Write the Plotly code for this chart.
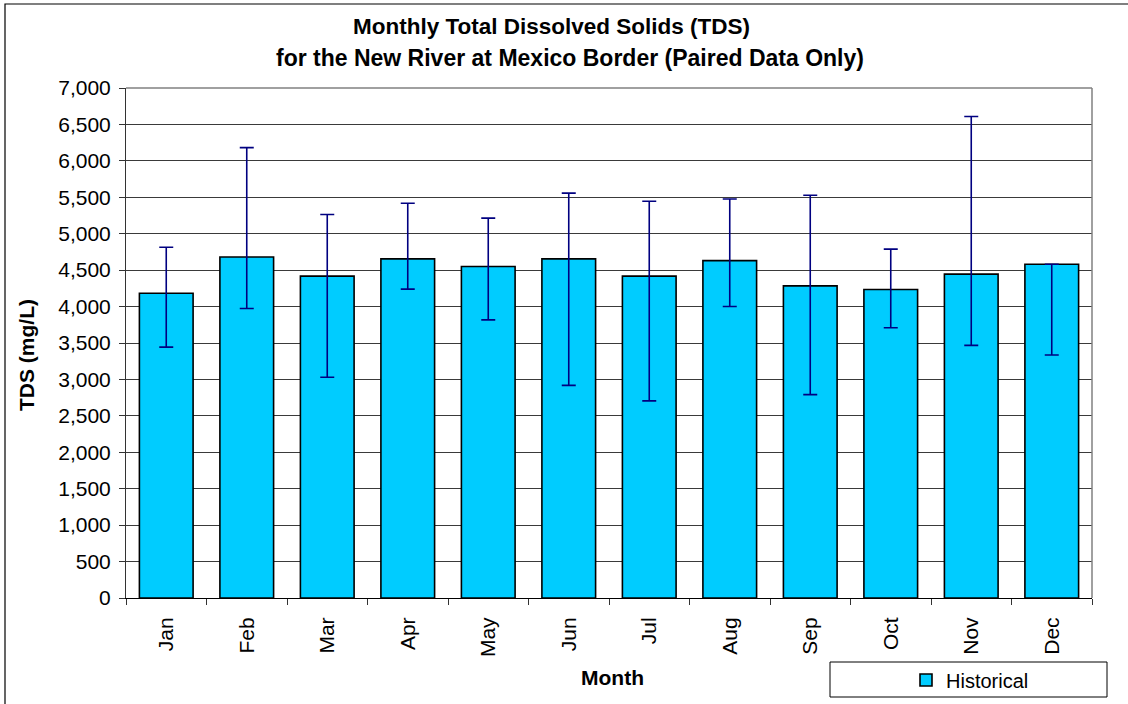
import plotly.graph_objects as go

months = ["Jan", "Feb", "Mar", "Apr", "May", "Jun", "Jul", "Aug", "Sep", "Oct", "Nov", "Dec"]
tds_mean = [4183, 4681, 4418, 4654, 4550, 4654, 4418, 4631, 4284, 4234, 4446, 4581]
tds_max = [4815, 6182, 5264, 5418, 5214, 5557, 5445, 5477, 5528, 4788, 6609, 4581]
tds_min = [3443, 3973, 3029, 4239, 3818, 2918, 2705, 4000, 2791, 3709, 3467, 3336]
y_ticks = list(range(0, 7001, 500))

err_plus = [hi - m for hi, m in zip(tds_max, tds_mean)]
err_minus = [m - lo for lo, m in zip(tds_min, tds_mean)]

FONT = "Arial, Liberation Sans, sans-serif"
W, H = 1128, 704
L, R, T, B = 126, 36, 88, 106
PW, PH = W - L - R, H - T - B


def px(x):
    return (x - L) / PW


def py(y):
    return (H - B - y) / PH


fig = go.Figure()
fig.add_trace(go.Bar(
    x=months, y=tds_mean, name="Historical",
    marker=dict(color="#00CCFF", line=dict(color="black", width=1.6)),
    error_y=dict(type="data", symmetric=False, array=err_plus, arrayminus=err_minus,
                 color="#000080", thickness=1.6, width=7),
))

fig.update_layout(
    width=W, height=H,
    margin=dict(l=L, r=R, t=T, b=B, autoexpand=False),
    paper_bgcolor="white", plot_bgcolor="white",
    font=dict(family=FONT, size=21, color="black"),
    bargap=0.333,
    showlegend=True,
    legend=dict(x=px(906), y=py(680), xanchor="left", yanchor="middle",
                bgcolor="rgba(0,0,0,0)", borderwidth=0, itemwidth=30,
                font=dict(family=FONT, size=20, color="black")),
    xaxis=dict(type="category", showgrid=False, ticks="outside", tickson="boundaries",
               ticklen=6, tickcolor="#333", tickangle=-90, showline=True,
               linecolor="black", linewidth=1, mirror=False, ticklabelstandoff=10,
               automargin=False, tickfont=dict(family=FONT, size=21)),
    yaxis=dict(range=[0, 7000], tickvals=y_ticks, tickformat=",", showgrid=True,
               gridcolor="#3a3a3a", gridwidth=1, ticks="outside", ticklen=6,
               tickcolor="#333", showline=True, linecolor="#333", linewidth=1,
               zeroline=False, ticklabelstandoff=4, automargin=False,
               tickfont=dict(family=FONT, size=21)),
    shapes=[
        dict(type="line", xref="paper", yref="paper", x0=0, x1=1, y0=1, y1=1,
             line=dict(color="#808080", width=1.5)),
        dict(type="line", xref="paper", yref="paper", x0=1, x1=1, y0=0, y1=1,
             line=dict(color="#808080", width=1.5)),
        dict(type="rect", xref="paper", yref="paper", x0=px(830), x1=px(1107),
             y0=py(697), y1=py(662), line=dict(color="black", width=1)),
        dict(type="rect", xref="paper", yref="paper", x0=px(5), x1=px(1140),
             y0=py(715), y1=py(4), line=dict(color="black", width=1.2)),
    ],
    annotations=[
        dict(text="<b>Monthly Total Dissolved Solids (TDS)</b>", xref="paper", yref="paper",
             x=px(551), y=py(27), xanchor="center", yanchor="middle", showarrow=False,
             font=dict(family=FONT, size=22.5)),
        dict(text="<b>for the New River at Mexico Border (Paired Data Only)</b>",
             xref="paper", yref="paper", x=px(570), y=py(58), xanchor="center",
             yanchor="middle", showarrow=False, font=dict(family=FONT, size=23)),
        dict(text="<b>TDS (mg/L)</b>", xref="paper", yref="paper", x=px(26), y=py(355),
             xanchor="center", yanchor="middle", textangle=-90, showarrow=False,
             font=dict(family=FONT, size=21)),
        dict(text="<b>Month</b>", xref="paper", yref="paper", x=px(612), y=py(678),
             xanchor="center", yanchor="middle", showarrow=False,
             font=dict(family=FONT, size=21)),
    ],
)

fig.write_html("out.html", config={"displayModeBar": False},
               post_script="document.body.style.margin='0';")
